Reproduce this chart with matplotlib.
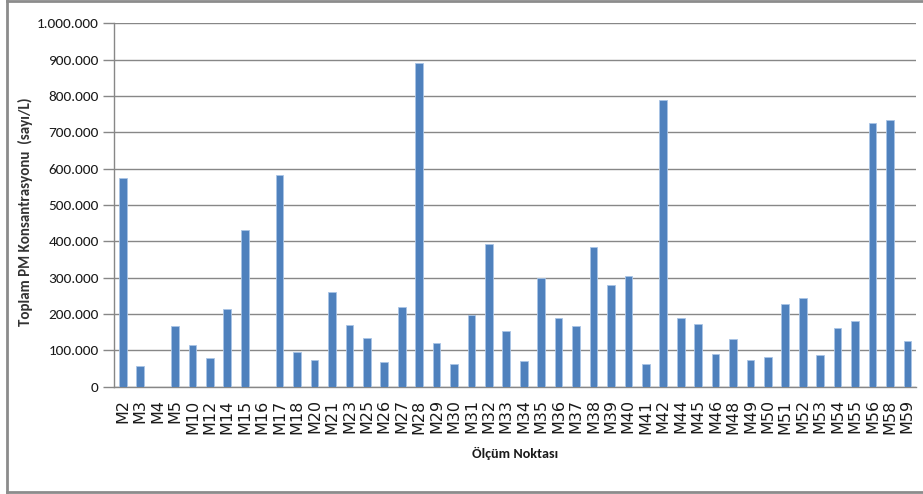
import matplotlib.pyplot as plt
from matplotlib.lines import Line2D
from matplotlib.ticker import FuncFormatter
import numpy as np

# measurement points and total PM concentration (count/L)
points = ["M2", "M3", "M4", "M5", "M10", "M12", "M14", "M15", "M16", "M17",
          "M18", "M20", "M21", "M23", "M25", "M26", "M27", "M28", "M29", "M30",
          "M31", "M32", "M33", "M34", "M35", "M36", "M37", "M38", "M39", "M40",
          "M41", "M42", "M44", "M45", "M46", "M48", "M49", "M50", "M51", "M52",
          "M53", "M54", "M55", "M56", "M58", "M59"]
pm_total = [574000, 58000, 0, 166000, 116000, 80000, 214000, 432000, 0, 582000,
            95000, 74000, 261000, 169000, 135000, 69000, 219000, 890000, 121000, 63000,
            198000, 392000, 153000, 71000, 298000, 190000, 166000, 385000, 279000, 305000,
            63000, 788000, 190000, 172000, 89000, 132000, 74000, 81000, 229000, 245000,
            87000, 161000, 180000, 725000, 735000, 126000]
y_ticks = np.arange(0, 1000001, 100000)

narrow = ["Carlito", "DejaVu Sans"]
bar_color = "#4F81BD"
grid_color = "#878787"
text_color = "#1a1a1a"

fig = plt.figure(figsize=(9.23, 4.94), dpi=100)
ax = fig.add_axes([0.1235, 0.217, 0.8690, 0.7358])

x = np.arange(len(points))
ax.bar(x, pm_total, width=0.44, color=bar_color, edgecolor="#a9c4e6",
       linewidth=0.6, zorder=3)

ax.set_xlim(-0.5, len(points) - 0.5)
ax.set_ylim(0, 1000000)
ax.set_yticks(y_ticks)
ax.yaxis.set_major_formatter(
    FuncFormatter(lambda v, _: f"{int(v):,}".replace(",", ".")))
ax.grid(axis="y", color=grid_color, linewidth=1.0, zorder=0)

ax.set_xticks(x)
ax.set_xticklabels(points, rotation=90, fontsize=11.5, family="DejaVu Sans",
                   color=text_color)
ax.tick_params(axis="x", length=0, pad=9)
ax.tick_params(axis="y", length=8, width=1, color=grid_color, pad=3)
for lab in ax.get_yticklabels():
    lab.set_family(narrow)
    lab.set_fontsize(11)
    lab.set_color(text_color)

for side in ["top", "right"]:
    ax.spines[side].set_visible(False)
for side in ["left", "bottom"]:
    ax.spines[side].set_color(grid_color)
    ax.spines[side].set_linewidth(1.0)

ax.set_ylabel("Toplam PM Konsantrasyonu  (sayı/L)", family=narrow,
              fontweight="bold", fontsize=10.8, color="#333333")
ax.yaxis.set_label_coords(-0.101, 0.481)
ax.set_xlabel("Ölçüm Noktası", family=narrow, fontweight="bold",
              fontsize=10.2, color=text_color)
ax.xaxis.set_label_coords(0.5, -0.165)

# chart frame (left, top and bottom edges)
W, H = 923, 494
frame_kw = dict(color="#8c8c8c", linewidth=2, transform=fig.transFigure)
fig.add_artist(Line2D([7 / W, 7 / W], [1 - 1 / H, 1 - 492 / H], **frame_kw))
fig.add_artist(Line2D([7 / W, 1], [1 - 1.5 / H, 1 - 1.5 / H], **frame_kw))
fig.add_artist(Line2D([7 / W, 1], [1 - 491.5 / H, 1 - 491.5 / H], **frame_kw))

fig.savefig("out.png", dpi=100)
